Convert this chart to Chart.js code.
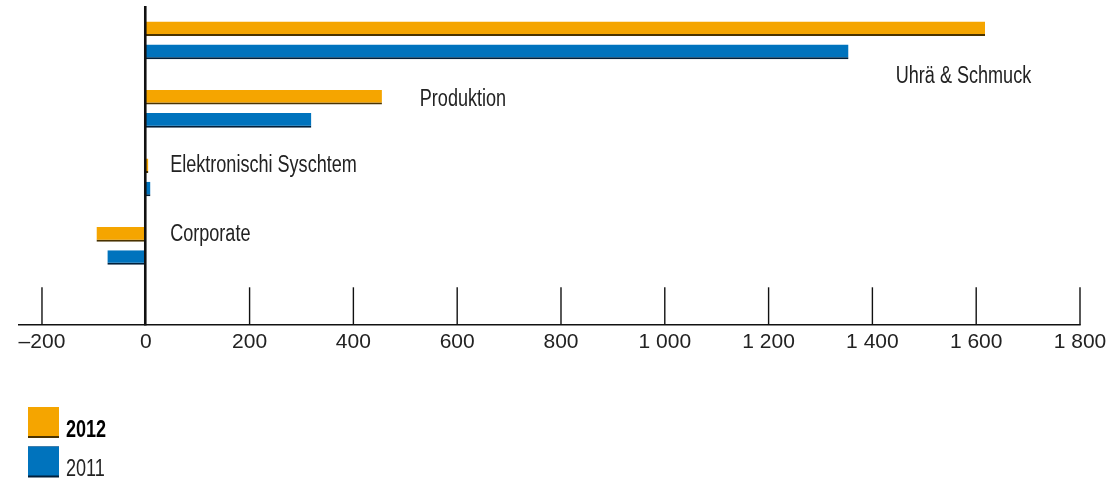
<!DOCTYPE html>
<html>
<head>
<meta charset="utf-8">
<script src="https://cdn.jsdelivr.net/npm/chart.js@4/dist/chart.umd.min.js"></script>
<style>
  html, body { margin: 0; padding: 0; background: #fff; }
  #wrap { width: 1111px; height: 479px; position: relative; }
</style>
</head>
<body>
<div id="wrap"><canvas id="chart"></canvas></div>
<script>
// Data
const categories = ['Uhrä & Schmuck', 'Produktion', 'Elektronischi Syschtem', 'Corporate'];
const seriesNames = ['2012', '2011'];
const values2012 = [1617, 455, 5, -95];
const values2011 = [1354, 319, 9, -74];
const tickValues = [-200, 0, 200, 400, 600, 800, 1000, 1200, 1400, 1600, 1800];

const FONT = "'Liberation Sans', Arial, sans-serif";
const NARROW = 0.785; // squeeze to look like a condensed face
const ORANGE = '#F5A500';
const BLUE = '#0073BD';

Chart.defaults.font.family = FONT;

// 1 000 style with a real en dash for negatives
function fmt(v) {
  const s = String(Math.abs(v)).replace(/\B(?=(\d{3})+(?!\d))/g, ' ');
  return v < 0 ? '\u2013' + s : s;
}

function narrowText(ctx, text, x, y, align) {
  ctx.save();
  ctx.translate(x, y);
  ctx.scale(NARROW, 1);
  ctx.textAlign = align;
  ctx.fillText(text, 0, 0);
  ctx.restore();
}

// Axis line, upward tick marks, thick zero line
const axisPlugin = {
  id: 'axisPlugin',
  afterDatasetsDraw(chart, args, opts) {
    const { ctx, chartArea } = chart;
    const x = chart.scales.x;
    const axisY = chartArea.bottom + opts.gap;
    ctx.save();
    ctx.strokeStyle = '#111';
    ctx.lineWidth = 1.4;
    ctx.beginPath();
    ctx.moveTo(chartArea.left, axisY);
    ctx.lineTo(x.getPixelForValue(tickValues[tickValues.length - 1]) + 0.7, axisY);
    ctx.stroke();
    tickValues.forEach(v => {
      if (v === 0) return;
      const px = x.getPixelForValue(v);
      ctx.beginPath();
      ctx.moveTo(px, axisY - opts.tick);
      ctx.lineTo(px, axisY);
      ctx.stroke();
    });
    ctx.lineWidth = 2.6;
    const zx = x.getPixelForValue(0) - 0.5;
    ctx.beginPath();
    ctx.moveTo(zx, chartArea.top);
    ctx.lineTo(zx, axisY + 0.7);
    ctx.stroke();
    ctx.restore();
  }
};

// Category names next to their bars
const namePlugin = {
  id: 'namePlugin',
  afterDatasetsDraw(chart, args, opts) {
    const { ctx } = chart;
    const x = chart.scales.x;
    const y = chart.scales.y;
    ctx.save();
    ctx.font = '23px ' + FONT;
    ctx.fillStyle = '#222';
    ctx.textBaseline = 'alphabetic';
    categories.forEach((name, i) => {
      const a = opts.anchors[i];
      narrowText(ctx, name, x.getPixelForValue(a.at), y.getPixelForValue(i) + a.dy, a.align);
    });
    ctx.restore();
  }
};

// Square legend in the lower left
const legendPlugin = {
  id: 'legendPlugin',
  afterDraw(chart, args, opts) {
    const { ctx } = chart;
    ctx.save();
    chart.data.datasets.forEach((ds, i) => {
      const top = opts.top + i * opts.step;
      ctx.fillStyle = ds.borderColor;
      ctx.fillRect(opts.left, top, opts.size, opts.size);
      ctx.fillStyle = ds.backgroundColor;
      ctx.fillRect(opts.left, top, opts.size, opts.size - 2);
      ctx.fillStyle = i === 0 ? '#000' : '#222';
      ctx.font = (i === 0 ? 'bold ' : '') + '23px ' + FONT;
      ctx.textBaseline = 'alphabetic';
      narrowText(ctx, seriesNames[i], opts.left + opts.size + 7, top + opts.size - 1.5, 'left');
    });
    ctx.restore();
  }
};

new Chart(document.getElementById('chart'), {
  type: 'bar',
  data: {
    labels: categories,
    datasets: [
      {
        label: seriesNames[0],
        data: values2012,
        backgroundColor: ORANGE,
        borderColor: '#4a3300',
        borderWidth: { top: 0, right: 0, bottom: 2, left: 0 },
        borderSkipped: false,
        categoryPercentage: 0.675,
        barPercentage: 0.63
      },
      {
        label: seriesNames[1],
        data: values2011,
        backgroundColor: BLUE,
        borderColor: '#001f3a',
        borderWidth: { top: 0, right: 0, bottom: 2, left: 0 },
        borderSkipped: false,
        categoryPercentage: 0.675,
        barPercentage: 0.63
      }
    ]
  },
  options: {
    indexAxis: 'y',
    responsive: true,
    maintainAspectRatio: false,
    animation: false,
    layout: { padding: { top: 6, left: 18, right: 31, bottom: 122 } },
    scales: {
      y: {
        type: 'category',
        display: false
      },
      x: {
        type: 'linear',
        min: -246.2,
        max: 1800,
        // hidden grid, but tickLength still pushes the labels down
        grid: { display: false, drawTicks: true, tickLength: 47.6 },
        border: { display: false },
        ticks: {
          stepSize: 200,
          includeBounds: false,
          autoSkip: false,
          maxRotation: 0,
          padding: 2,
          color: '#222',
          font: { size: 21, family: FONT },
          callback: v => fmt(v)
        }
      }
    },
    plugins: {
      legend: { display: false },
      tooltip: { enabled: false },
      axisPlugin: { gap: 44.6, tick: 37.5 },
      namePlugin: {
        anchors: [
          { at: 1706, align: 'right', dy: 43 },
          { at: 528, align: 'left', dy: -3 },
          { at: 47, align: 'left', dy: -5 },
          { at: 47, align: 'left', dy: -5 }
        ]
      },
      legendPlugin: { left: 28, top: 407, step: 39.5, size: 31 }
    }
  },
  plugins: [axisPlugin, namePlugin, legendPlugin]
});
</script>
</body>
</html>
